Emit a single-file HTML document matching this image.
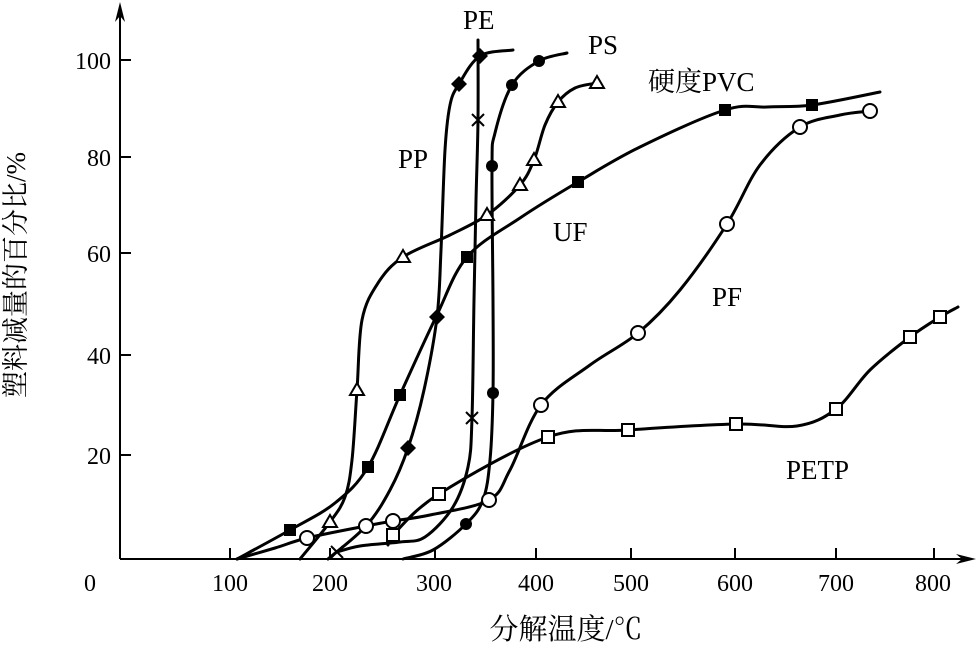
<!DOCTYPE html>
<html><head><meta charset="utf-8">
<style>
html,body{margin:0;padding:0;background:#fff;}
svg{display:block;}
text{font-family:"Liberation Serif","Noto Serif CJK SC",serif;fill:#000;}
</style></head>
<body>
<svg id="s" width="977" height="645" viewBox="0 0 977 645" xmlns="http://www.w3.org/2000/svg">
<g stroke="#000" stroke-width="2" fill="none">
<line x1="120" y1="559" x2="120" y2="6"/>
<line x1="120" y1="559" x2="970" y2="559"/>
</g>
<path d="M120,2 L115,22 L120,16 L125,22 Z" fill="#000"/>
<path d="M976,559 L956,554 L962,559 L956,564 Z" fill="#000"/>
<g stroke="#000" stroke-width="2">
<line x1="120" y1="60" x2="131" y2="60"/>
<line x1="120" y1="157" x2="131" y2="157"/>
<line x1="120" y1="253" x2="131" y2="253"/>
<line x1="120" y1="355" x2="131" y2="355"/>
<line x1="120" y1="455" x2="131" y2="455"/>
<line x1="230" y1="548" x2="230" y2="559"/>
<line x1="330" y1="548" x2="330" y2="559"/>
<line x1="435" y1="548" x2="435" y2="559"/>
<line x1="536" y1="548" x2="536" y2="559"/>
<line x1="631" y1="548" x2="631" y2="559"/>
<line x1="735" y1="548" x2="735" y2="559"/>
<line x1="836" y1="548" x2="836" y2="559"/>
<line x1="934" y1="548" x2="934" y2="559"/>
</g>
<g font-size="24" text-anchor="end">
<text x="111" y="69">100</text>
<text x="111" y="166">80</text>
<text x="111" y="262">60</text>
<text x="111" y="364">40</text>
<text x="111" y="464">20</text>
</g>
<g font-size="24" text-anchor="middle">
<text x="90" y="591">0</text>
<text x="230" y="591">100</text>
<text x="330" y="591">200</text>
<text x="434" y="591">300</text>
<text x="536" y="591">400</text>
<text x="631" y="591">500</text>
<text x="735" y="591">600</text>
<text x="836" y="591">700</text>
<text x="933" y="591">800</text>
</g>
<text x="566" y="639" font-size="29" text-anchor="middle">分解温度/℃</text>
<text transform="translate(25,275) rotate(-90)" font-size="27" text-anchor="middle">塑料减量的百分比/%</text>
<g font-size="27">
<text x="463" y="29">PE</text>
<text x="398" y="168">PP</text>
<text x="588" y="54">PS</text>
<text x="648" y="91">硬度PVC</text>
<text x="553" y="241">UF</text>
<text x="712" y="306">PF</text>
<text x="786" y="479">PETP</text>
</g>
<g id="curves" stroke="#000" stroke-width="3" fill="none" stroke-linecap="round"></g>
<g id="marks"></g>
</svg>
<script>
var S=[
{p:[[237,559],[290,530],[335,503],[368,467],[400,395],[436,317],[467,257],[520,218],[578,182],[640,147],[725,110],[767,107],[812,105],[880,92]],m:'fs',k:[1,3,4,6,8,10,12]},
{p:[[328,559],[366,526],[390,490],[408,448],[424,390],[437,317],[441,250],[445,150],[450,105],[459,84],[480,56],[513,50]],m:'fd',k:[3,5,9,10]},
{p:[[300,559],[330,522],[345,497],[352,460],[357,390],[362,320],[378,283],[403,257],[450,235],[487,215],[520,185],[534,160],[545,125],[558,102],[575,88],[597,83]],m:'tr',k:[1,4,7,9,10,11,13,15]},
{p:[[337,552],[360,546],[400,542],[425,537],[453,507],[468,467],[472,418],[474,300],[476,200],[478,120],[478,40]],m:'x',k:[0,6,9]},
{p:[[403,559],[433,550],[466,524],[483,500],[490,460],[493,393],[493,300],[492,166],[495,133],[512,85],[539,61],[567,53]],m:'fc',k:[2,5,7,9,10]},
{p:[[237,559],[275,548],[307,538],[366,526],[393,521],[430,515],[489,500],[510,470],[541,405],[590,365],[638,333],[680,290],[727,224],[760,165],[800,127],[840,115],[870,111]],m:'oc',k:[2,3,4,6,8,10,12,14,16]},
{p:[[388,545],[393,535],[439,494],[548,437],[628,430],[736,424],[797,426],[836,409],[870,370],[910,337],[940,317],[958,307]],m:'os',k:[1,2,3,4,5,7,9,10]}
];
var NS="http://www.w3.org/2000/svg";
function path(p){var d="M"+p[0][0]+","+p[0][1];for(var i=0;i<p.length-1;i++){var a=p[Math.max(i-1,0)],b=p[i],c=p[i+1],e=p[Math.min(i+2,p.length-1)];var c1=[b[0]+(c[0]-a[0])/6,b[1]+(c[1]-a[1])/6],c2=[c[0]-(e[0]-b[0])/6,c[1]-(e[1]-b[1])/6];d+=" C"+c1[0].toFixed(1)+","+c1[1].toFixed(1)+" "+c2[0].toFixed(1)+","+c2[1].toFixed(1)+" "+c[0]+","+c[1];}return d;}
var cg=document.getElementById('curves'),mg=document.getElementById('marks');
function el(t,a,par){var e=document.createElementNS(NS,t);for(var k in a)e.setAttribute(k,a[k]);par.appendChild(e);return e;}
S.forEach(function(s){el('path',{d:path(s.p)},cg);
s.k.forEach(function(i){var x=s.p[i][0],y=s.p[i][1];
if(s.m=='fs')el('rect',{x:x-6,y:y-6,width:12,height:12,fill:'#000'},mg);
else if(s.m=='os')el('rect',{x:x-6,y:y-6,width:12,height:12,fill:'#fff',stroke:'#000','stroke-width':2},mg);
else if(s.m=='fd')el('path',{d:'M'+x+','+(y-8)+' L'+(x+8)+','+y+' L'+x+','+(y+8)+' L'+(x-8)+','+y+'Z',fill:'#000'},mg);
else if(s.m=='tr')el('path',{d:'M'+x+','+(y-7)+' L'+(x+7)+','+(y+5)+' L'+(x-7)+','+(y+5)+'Z',fill:'#fff',stroke:'#000','stroke-width':2},mg);
else if(s.m=='fc')el('circle',{cx:x,cy:y,r:6,fill:'#000'},mg);
else if(s.m=='oc')el('circle',{cx:x,cy:y,r:7,fill:'#fff',stroke:'#000','stroke-width':2},mg);
else if(s.m=='x')el('path',{d:'M'+(x-6)+','+(y-6)+' L'+(x+6)+','+(y+6)+' M'+(x+6)+','+(y-6)+' L'+(x-6)+','+(y+6),stroke:'#000','stroke-width':2},mg);
});});
</script>
</body></html>
